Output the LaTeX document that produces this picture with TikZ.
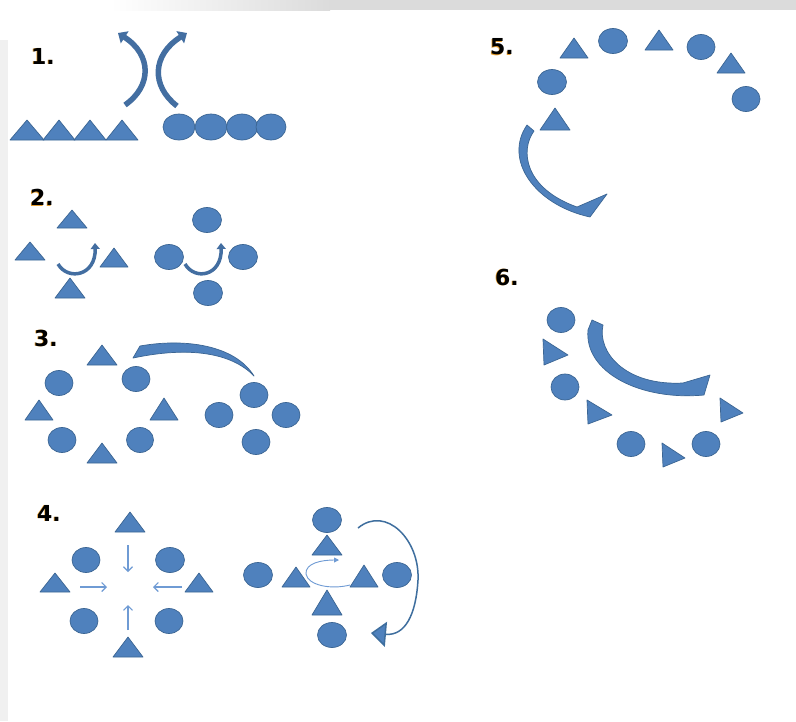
\documentclass[tikz,border=0pt]{standalone}
\usepackage{fontspec}
\newfontfamily\lblfont{DejaVu Sans}
\usetikzlibrary{arrows.meta}
\definecolor{sfill}{HTML}{4F81BD}
\definecolor{sborder}{HTML}{3B6593}
\definecolor{thinblue}{HTML}{6F9BD4}
\definecolor{arcblue}{HTML}{3E6E9E}
\definecolor{glow}{HTML}{E8A030}
\tikzset{
  shp/.style={fill=sfill, draw=sborder, line width=0.7pt, line join=round},
  blockarrow/.style={draw=sfill!85!black, line width=5.5pt, -{Triangle[width=14pt,length=8pt]}},
  smallarrow/.style={draw=sfill!85!black, line width=3.5pt, -{Triangle[width=9pt,length=6pt]}},
  thinarrow/.style={draw=thinblue, line width=1.1pt, -{Straight Barb[length=4.5pt,width=9pt]}},
  lbltext/.style={inner sep=0pt, font=\lblfont\bfseries\fontsize{22}{22}\selectfont}
}
\newcommand\tri[4]{\draw[shp] ({#1-#4},#3) -- (#1,#2) -- ({#1+#4},#3) -- cycle;}
\newcommand\rtri[4]{\draw[shp] (#1,{#3-#4}) -- (#2,{#3+3}) -- ({#1+1},{#3+#4}) -- cycle;}
\newcommand\blob[4]{\draw[shp] (#1,#2) ellipse [x radius=#3pt, y radius=#4pt];}
\newcommand\lbl[4]{\node[lbltext, text=glow] at ({#1-0.9},{#2+0.9}) {#4};
  \node[lbltext] (#3) at (#1,#2) {#4};}
\begin{document}
\begin{tikzpicture}[x=1pt,y=-1pt]
\useasboundingbox (0,0) rectangle (796,721);
\fill[white] (0,0) rectangle (796,721);
% screenshot frame
\shade[left color=white, right color=gray!28] (110,0) rectangle (330,10);
\fill[gray!28] (330,0) rectangle (796,10);
\fill[gray!12] (0,40) rectangle (8,721);

% ---------- labels
\lbl{43}{56}{l1}{1.}
\lbl{42}{197}{l2}{2.}
\lbl{46}{338}{l3}{3.}
\lbl{49}{513}{l4}{4.}
\lbl{502}{47}{l5}{5.}
\lbl{507}{277}{l6}{6.}

% ---------- panel 1
\tri{27}{120}{140}{17}
\tri{59}{120}{140}{16}
\tri{90}{120}{140}{16}
\tri{122}{120}{140}{16}
\blob{179}{127}{16}{13}
\blob{211}{127}{16}{13}
\blob{242}{127}{15.5}{13}
\blob{271}{127}{15}{13}
\draw[blockarrow] (125,105) .. controls (152,86) and (152,55) .. (118,33);
\draw[blockarrow] (177,106) .. controls (151,86) and (152,55) .. (187,33);

% ---------- panel 2
\tri{72}{210}{228}{15}
\tri{30}{242}{260}{15}
\tri{114}{248}{267}{14}
\tri{70}{278}{298}{15}
\blob{207}{220}{14.5}{12.5}
\blob{169}{257}{14.5}{12.5}
\blob{243}{257}{14.5}{12.5}
\blob{208}{293}{14.5}{12.5}
\draw[smallarrow] (58,264) .. controls (68,281) and (96,276) .. (95,243);
\draw[smallarrow] (185,264) .. controls (195,281) and (222,276) .. (221,243);

% ---------- panel 3
\tri{102}{345}{365}{15}
\tri{39}{400}{420}{14}
\tri{164}{398}{420}{14}
\tri{102}{443}{463}{15}
\blob{59}{383}{14}{12.5}
\blob{136}{379}{14}{12.5}
\blob{62}{440}{14}{12.5}
\blob{140}{440}{13.5}{12.5}
\blob{254}{395}{14}{12.5}
\blob{219}{415}{14}{12.5}
\blob{286}{415}{14}{12.5}
\blob{256}{442}{14}{12.5}
\draw[shp] (133,358) -- (140,346) .. controls (185,338) and (235,345) .. (254,376)
  .. controls (232,353) and (190,346) .. cycle;

% ---------- panel 4 left
\tri{130}{512}{532}{15}
\tri{55}{573}{592}{15}
\tri{199}{573}{592}{14}
\tri{128}{637}{657}{15}
\blob{86}{560}{14}{12.5}
\blob{170}{560}{14.5}{12.5}
\blob{84}{621}{14}{12.5}
\blob{169}{621}{14}{12.5}
\draw[thinarrow] (128,545) -- (128,572);
\draw[thinarrow] (80,587) -- (107,587);
\draw[thinarrow] (182,587) -- (153,587);
\draw[thinarrow] (128,630) -- (128,605);

% ---------- panel 4 right
\blob{327}{520}{14.5}{12.5}
\blob{258}{575}{14.5}{12.5}
\blob{397}{575}{14.5}{12.5}
\blob{332}{635}{14.5}{12.5}
\tri{327}{535}{555}{15}
\tri{296}{567}{587}{14}
\tri{364}{565}{587}{14}
\tri{327}{590}{615}{15}
\draw[draw=thinblue, line width=0.9pt, -{Triangle[length=5pt,width=5pt]}]
  (350,585) .. controls (330,590) and (308,585) .. (306,574)
  .. controls (305,563) and (322,560) .. (339,560);
\draw[draw=arcblue, line width=1.5pt, -{Triangle[length=15pt,width=25pt,fill=sfill]}]
  (358,528) .. controls (386,505) and (420,540) .. (418,580)
  .. controls (416,615) and (405,636) .. (371,633);

% ---------- panel 5
\tri{574}{38}{58}{14}
\tri{659}{30}{50}{14}
\tri{731}{53}{73}{14}
\tri{555}{108}{130}{15}
\blob{613}{41}{14.5}{12.5}
\blob{701}{47}{14}{12.5}
\blob{746}{99}{14}{12.5}
\blob{552}{82}{14.5}{12.5}
\draw[shp] (527,125) -- (534,131) .. controls (520,150) and (524,188) .. (577,207)
  -- (607,194) -- (590,217) .. controls (535,205) and (503,160) .. cycle;

% ---------- panel 6
\blob{561}{320}{14}{12.5}
\blob{565}{387}{14}{13}
\blob{631}{444}{14}{12.5}
\blob{706}{444}{14}{12.5}
\rtri{543}{568}{352}{13}
\rtri{587}{612}{412}{12}
\rtri{662}{685}{455}{12}
\rtri{720}{743}{410}{12}
\draw[shp] (592,320) -- (603,325) .. controls (597,352) and (625,386) .. (683,383)
  -- (710,375) -- (704,395) .. controls (640,401) and (584,372) .. (588,330) -- cycle;
\end{tikzpicture}
\end{document}
